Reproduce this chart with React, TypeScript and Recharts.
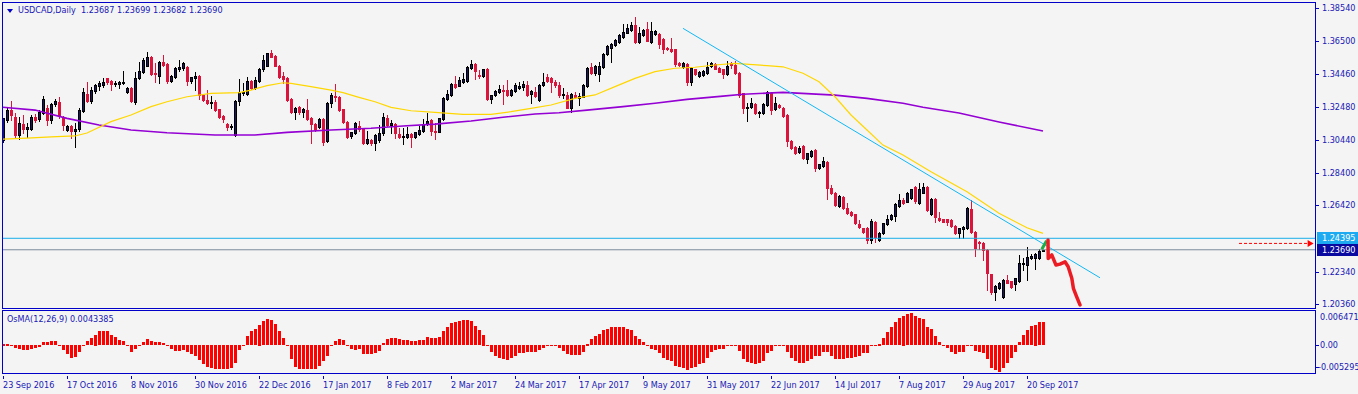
import React from "react";
import {
  ComposedChart, Bar, Line, XAxis, YAxis, ReferenceLine, ReferenceDot,
} from "recharts";

const FONT = "'DejaVu Sans Condensed', 'DejaVu Sans', Verdana, sans-serif";
const INK = "#1818b4";
const FRAME = "#0000c8";
const BG = "#f4f4f4";
const BULL_FILL = "#18185a";
const BEAR = "#dc143c";

// daily bars USDCAD, [open, high, low, close] in pips (x 0.0001)
const CANDLES: [number, number, number, number][] = [
  [13043,13176,13032,13176],[13166,13243,13156,13227],[13227,13284,13166,13196],[13186,13207,13063,13073],[13073,13182,13047,13145],
  [13139,13196,13084,13110],[13108,13145,13063,13121],[13110,13196,13104,13186],[13186,13200,13156,13166],[13170,13227,13160,13217],
  [13211,13313,13200,13295],[13237,13258,13135,13166],[13166,13270,13150,13264],[13264,13295,13255,13282],[13278,13305,13180,13190],
  [13186,13190,13104,13135],[13104,13135,13100,13129],[13129,13135,13053,13100],[13098,13145,13002,13108],[13108,13237,13100,13227],
  [13223,13360,13215,13340],[13325,13401,13275,13284],[13284,13370,13270,13350],[13346,13389,13335,13379],[13377,13405,13350,13391],
  [13379,13422,13370,13397],[13422,13425,13390,13397],[13405,13410,13350,13385],[13385,13405,13375,13395],[13387,13405,13360,13397],
  [13391,13467,13385,13401],[13340,13368,13335,13360],[13360,13366,13278,13282],[13278,13463,13264,13426],[13422,13520,13415,13467],
  [13463,13545,13455,13534],[13500,13585,13495,13551],[13551,13560,13440,13446],[13452,13514,13401,13446],[13438,13530,13395,13520],
  [13520,13567,13495,13504],[13508,13515,13395,13407],[13407,13445,13400,13438],[13432,13490,13425,13483],[13479,13534,13470,13489],
  [13483,13525,13475,13514],[13493,13500,13380,13405],[13405,13432,13395,13432],[13426,13458,13350,13436],[13436,13440,13295,13319],
  [13319,13325,13280,13288],[13288,13350,13262,13268],[13268,13313,13241,13278],[13274,13288,13220,13227],[13231,13235,13180,13186],
  [13190,13195,13151,13170],[13139,13145,13104,13125],[13125,13141,13110,13129],[13073,13288,13068,13282],[13282,13418,13258,13336],
  [13329,13391,13320,13336],[13325,13428,13318,13405],[13405,13410,13358,13364],[13364,13432,13358,13411],[13407,13483,13400,13477],
  [13477,13565,13470,13534],[13499,13580,13495,13575],[13575,13596,13550,13555],[13559,13565,13495,13499],[13499,13505,13425,13432],
  [13436,13463,13391,13418],[13422,13428,13282,13288],[13295,13300,13210,13217],[13217,13248,13172,13241],[13243,13252,13205,13213],
  [13213,13238,13186,13231],[13227,13295,13165,13172],[13180,13185,13022,13139],[13139,13145,13100,13108],[13125,13180,13118,13172],
  [13172,13180,13012,13032],[13039,13275,13030,13268],[13268,13330,13248,13319],[13313,13385,13282,13309],[13309,13315,13220,13227],
  [13231,13235,13145,13151],[13155,13160,13055,13063],[13067,13095,13053,13090],[13084,13152,13078,13145],[13129,13162,13100,13108],
  [13114,13120,13020,13026],[13026,13100,13020,13049],[13043,13050,13010,13026],[13022,13080,12981,13073],[13043,13135,13030,13084],
  [13084,13207,13075,13186],[13180,13196,13130,13135],[13135,13165,13084,13145],[13139,13145,13053,13084],[13080,13114,13055,13059],
  [13063,13114,13018,13067],[13063,13125,13058,13080],[13080,13085,13002,13063],[13063,13095,13058,13090],[13080,13129,13075,13104],
  [13100,13170,13095,13141],[13139,13207,13135,13159],[13166,13170,13073,13100],[13098,13145,13047,13094],[13094,13180,13090,13176],
  [13172,13305,13165,13299],[13295,13350,13290,13325],[13319,13392,13315,13387],[13385,13436,13365,13370],[13377,13428,13372,13411],
  [13401,13452,13395,13415],[13405,13495,13400,13489],[13483,13534,13478,13508],[13510,13515,13415,13469],[13445,13473,13422,13442],
  [13436,13482,13430,13477],[13479,13483,13288,13295],[13295,13322,13272,13317],[13317,13350,13312,13344],[13340,13381,13335,13356],
  [13352,13381,13262,13350],[13350,13411,13315,13321],[13321,13356,13315,13350],[13346,13391,13340,13381],[13360,13401,13355,13374],
  [13370,13405,13350,13385],[13381,13407,13315,13319],[13323,13350,13272,13344],[13340,13370,13308,13313],[13288,13388,13282,13381],
  [13381,13456,13375,13401],[13428,13448,13400,13405],[13426,13430,13340,13401],[13401,13410,13370,13380],[13380,13400,13310,13320],
  [13320,13361,13299,13326],[13320,13340,13238,13242],[13242,13330,13217,13326],[13320,13340,13299,13310],[13303,13330,13258,13316],
  [13310,13385,13305,13381],[13377,13493,13370,13488],[13494,13514,13448,13453],[13453,13505,13445,13498],[13447,13525,13408,13498],
  [13490,13580,13484,13572],[13570,13628,13565,13621],[13611,13640,13525,13631],[13627,13665,13620,13658],[13643,13695,13637,13688],
  [13674,13756,13668,13709],[13703,13756,13698,13729],[13719,13770,13715,13750],[13750,13797,13637,13647],[13647,13740,13640,13699],
  [13688,13725,13680,13719],[13723,13770,13650,13654],[13647,13770,13640,13715],[13692,13720,13688,13713],[13695,13700,13606,13631],
  [13662,13668,13576,13600],[13611,13615,13595,13600],[13600,13668,13585,13590],[13600,13605,13500,13508],[13514,13520,13498,13504],
  [13494,13520,13488,13514],[13510,13515,13381,13402],[13402,13490,13381,13484],[13477,13482,13440,13447],[13439,13465,13430,13459],
  [13443,13475,13438,13467],[13453,13525,13448,13494],[13498,13525,13492,13518],[13510,13515,13478,13482],[13488,13492,13458,13463],
  [13477,13480,13422,13449],[13449,13531,13445,13500],[13518,13522,13484,13504],[13504,13531,13450,13457],[13453,13458,13310,13320],
  [13330,13335,13207,13238],[13237,13272,13162,13243],[13243,13299,13238,13268],[13264,13270,13200,13207],[13207,13220,13186,13215],
  [13211,13268,13200,13262],[13258,13346,13252,13340],[13334,13340,13200,13227],[13231,13309,13225,13272],[13258,13265,13238,13243],
  [13241,13246,13186,13192],[13196,13200,13006,13039],[13039,13045,12990,12996],[13002,13008,12955,12961],[12971,13006,12965,12996],
  [13006,13010,12925,12930],[12924,12966,12903,12961],[12946,12980,12940,12975],[12981,12990,12854,12873],[12869,12898,12864,12893],
  [12883,12940,12878,12914],[12910,12915,12680,12746],[12750,12766,12710,12715],[12719,12725,12638,12643],[12637,12705,12633,12699],
  [12695,12700,12617,12623],[12623,12654,12588,12592],[12602,12608,12577,12582],[12586,12590,12527,12535],[12527,12551,12500,12506],
  [12500,12505,12475,12480],[12500,12506,12408,12432],[12428,12555,12408,12547],[12541,12547,12418,12449],[12432,12480,12422,12475],
  [12469,12536,12465,12531],[12527,12582,12522,12561],[12555,12588,12550,12582],[12576,12656,12547,12650],[12637,12711,12630,12674],
  [12675,12685,12650,12658],[12665,12722,12660,12716],[12685,12745,12680,12740],[12757,12762,12654,12669],[12658,12777,12652,12740],
  [12720,12777,12715,12753],[12757,12762,12608,12613],[12589,12685,12584,12679],[12679,12685,12542,12572],[12562,12603,12548,12552],
  [12556,12560,12538,12542],[12556,12560,12521,12538],[12552,12556,12510,12515],[12515,12520,12464,12474],[12470,12505,12439,12501],
  [12495,12512,12439,12507],[12501,12634,12495,12624],[12617,12675,12475,12480],[12480,12485,12331,12378],[12419,12425,12372,12409],
  [12409,12415,12306,12368],[12368,12372,12122,12224],[12218,12222,12100,12112],[12112,12150,12060,12146],[12132,12170,12126,12163],
  [12081,12188,12071,12183],[12183,12214,12162,12167],[12177,12180,12137,12142],[12159,12198,12122,12194],[12177,12337,12170,12286],
  [12280,12316,12245,12286],[12275,12388,12183,12323],[12316,12340,12310,12331],[12316,12351,12249,12341],[12316,12372,12310,12364],
  [12369,12370,12368,12369],
];

// OsMA(12,26,9) histogram, x 0.0001
const OSMA: number[] = [
  3,3,1,-5,-8,-10,-10,-7,-5,-3, 6,5,7,7,1,-9,-18,-24,-22,-14,
  -2,7,14,20,26,27,26,19,16,10, 7,0.5,-14,-8,-2,6,11,7,6,6,
  4,-2,-8,-11,-11,-10,-14,-18,-21,-28, -36,-41,-43,-45,-46,-46,-46,-44,-34,-10,
  0.5,17,26,31,39,46,49,47,40,27, 14,0.5,-26,-41,-45,-46,-46,-46,-46,-40,
  -31,-20,-2,7,12,10,0.5,-8,-9,-8, -18,-18,-18,-16,-11,4,12,14,14,12,
  10,10,7,7,9,10,15,14,14,15, 27,34,42,44,46,47,47,46,37,29,
  20,0.5,-13,-21,-24,-26,-28,-24,-21,-16, -15,-14,-14,-14,-10,-6,-1,0.5,0.5,-6,
  -11,-17,-19,-19,-19,-13,3,11,17,21, 29,31,35,35,35,34,31,29,18,11,
  6,-2,-7,-9,-16,-25,-29,-31,-39,-42, -43,-47,-44,-41,-37,-34,-24,-14,-9,-7,
  -7,-2,0.5,1,-12,-26,-33,-35,-37,-35, -31,-15,-11,-0.5,-1,-1,-14,-25,-31,-34,
  -34,-31,-26,-21,-21,-13,-14,-21,-26,-27, -26,-25,-24,-22,-21,-16,-15,-2,-2,3,
  13,24,34,44,51,56,59,61,55,51, 49,35,31,17,5,-1,-6,-13,-17,-14,
  -14,0.5,-1,-11,-14,-16,-27,-44,-47,-52, -43,-34,-25,-14,5,19,29,36,39,43,
  43,
];

// moving averages, [bar index, pips]
const MA_FAST: [number, number][] = [
  [0,13049],[6,13055],[12,13063],[18,13068],[21,13086],[27,13156],[32,13197],[37,13248],[41,13278],[46,13309],
  [52,13330],[59,13334],[62,13350],[66,13377],[70,13395],[72,13391],[77,13371],[82,13350],[85,13334],[89,13305],
  [93,13278],[97,13244],[102,13223],[108,13213],[115,13201],[122,13201],[127,13217],[132,13238],[137,13258],[143,13299],
  [148,13320],[153,13371],[158,13422],[163,13463],[168,13484],[173,13490],[178,13504],[183,13514],[191,13500],[195,13493],
  [200,13453],[204,13401],[208,13309],[212,13197],[216,13105],[220,13012],[225,12951],[232,12848],[241,12726],[249,12593],
  [256,12504],[260,12470],
];
const MA_SLOW: [number, number][] = [
  [0,13244],[8,13227],[16,13176],[24,13135],[32,13105],[41,13088],[53,13074],[63,13074],[71,13090],[82,13105],
  [92,13115],[100,13129],[108,13141],[117,13160],[125,13183],[133,13203],[139,13211],[146,13227],[155,13248],[163,13269],
  [171,13293],[180,13313],[185,13324],[195,13336],[208,13319],[216,13299],[225,13269],[230,13244],[239,13209],[249,13154],
  [260,13098],
];

// drawn objects
const TREND: [number, number][] = [[170, 13729], [274.25, 12197]];
const PROJ_UP: [number, number][] = [[259.7, 12372], [260.9, 12425]];
const PROJ_DOWN: [number, number][] = [
  [261.25,12429],[261.3,12316],[262.2,12337],[263.25,12275],[264.25,12281],[265.5,12295],
  [266.3,12265],[267.2,12194],[267.6,12132],[268.4,12081],[269.25,12030],
];
const ALERT_FROM = 309;
const ALERT_TO = 327.4;
const ALERT_PRICE = 1.2408;
const ASK = 1.24395;
const BID = 1.2369;

const DATE_LABELS = [
  "23 Sep 2016", "17 Oct 2016", "8 Nov 2016", "30 Nov 2016", "22 Dec 2016", "17 Jan 2017",
  "8 Feb 2017", "2 Mar 2017", "24 Mar 2017", "17 Apr 2017", "9 May 2017", "31 May 2017",
  "22 Jun 2017", "14 Jul 2017", "7 Aug 2017", "29 Aug 2017", "20 Sep 2017",
];
const DATE_STEP = 16;
const PRICE_LABELS = [
  "1.38540", "1.36500", "1.34460", "1.32480", "1.30440", "1.28400",
  "1.26420", "1.24395", "1.23690", "1.22340", "1.20360",
];
const OSMA_TOP = 0.006471;
const OSMA_BOTTOM = -0.005295;
const OSMA_LABELS = ["0.006471", "0.00", "-0.005295"];

const X_DOMAIN: [number, number] = [-0.25, 328];
const PRICE_DOMAIN: [number, number] = [1.20113, 1.38909];
const PLOT_RIGHT = 1315;

const candleData = CANDLES.map(([o, h, l, c], i) => ({
  x: i, o: o / 1e4, h: h / 1e4, l: l / 1e4, c: c / 1e4, range: [l / 1e4, h / 1e4],
}));
const osmaData = OSMA.map((v, i) => ({ x: i, v: v / 1e4 }));
const toPts = (arr: [number, number][]) => arr.map(([x, p]) => ({ x, y: p / 1e4 }));

function Candle(props: any) {
  const { x, y, width, height, payload } = props;
  if (x == null || !payload) return null;
  const { o, h, l, c } = payload;
  const top = Math.min(y, y + height);
  const bot = Math.max(y, y + height);
  const span = h - l;
  const py = (v: number) => (span > 0 ? top + ((h - v) / span) * (bot - top) : top);
  const cx = Math.round(x + width / 2);
  const bull = c >= o;
  const bTop = Math.round(py(Math.max(o, c)));
  const bBot = Math.round(py(Math.min(o, c)));
  const bh = Math.max(1, bBot - bTop);
  return (
    <g shapeRendering="crispEdges">
      <rect x={cx} y={Math.round(top)} width={1} height={Math.max(1, Math.round(bot) - Math.round(top) + 1)} fill={bull ? "#000" : BEAR} />
      {bull ? (
        <>
          <rect x={cx - 1} y={bTop} width={3} height={bh + 1} fill="#000" />
          {bh > 1 && <rect x={cx} y={bTop + 1} width={1} height={bh - 1} fill={BULL_FILL} />}
        </>
      ) : (
        <rect x={cx - 1} y={bTop} width={3} height={bh + 1} fill={BEAR} />
      )}
    </g>
  );
}

function OsmaBar(props: any) {
  const { x, y, width, height } = props;
  if (x == null) return null;
  const cx = Math.round(x + width / 2);
  const top = Math.round(Math.min(y, y + height));
  const h = Math.max(1, Math.round(Math.abs(height)));
  return <rect x={cx - 1} y={top} width={3} height={h} fill="#ff0000" shapeRendering="crispEdges" />;
}

function PriceTick(props: any) {
  const { y, payload } = props;
  const label = PRICE_LABELS.find((s) => Math.abs(parseFloat(s) - payload.value) < 1e-7) ?? "";
  const isAsk = Math.abs(payload.value - ASK) < 1e-7;
  const isBid = Math.abs(payload.value - BID) < 1e-7;
  const cy = Math.round(y);
  if (isAsk || isBid) {
    return (
      <g>
        <rect x={PLOT_RIGHT + 2} y={cy - 6} width={43} height={12} fill={isAsk ? "#1eaaf0" : "#0a0aa0"} />
        <text x={PLOT_RIGHT + 7} y={cy} dominantBaseline="central" fontSize={9} fontFamily={FONT} fill="#ffffff">{label}</text>
      </g>
    );
  }
  return (
    <g>
      <line x1={PLOT_RIGHT + 1} x2={PLOT_RIGHT + 4} y1={cy + 0.5} y2={cy + 0.5} stroke={FRAME} />
      <text x={PLOT_RIGHT + 7} y={cy} dominantBaseline="central" fontSize={9} fontFamily={FONT} fill={INK}>{label}</text>
    </g>
  );
}

function OsmaTick(props: any) {
  const { y, payload } = props;
  const v = payload.value;
  const idx = v > 0 ? 0 : v === 0 ? 1 : 2;
  const dy = idx === 0 ? 6 : idx === 1 ? 0 : -6;
  const cy = Math.round(y + dy);
  return (
    <g>
      {idx > 0 && <line x1={PLOT_RIGHT + 1} x2={PLOT_RIGHT + 4} y1={cy + 0.5} y2={cy + 0.5} stroke={FRAME} />}
      <text x={PLOT_RIGHT + (idx === 2 ? 3 : 5)} y={cy} dominantBaseline="central" fontSize={9} fontFamily={FONT} fill={INK}>{OSMA_LABELS[idx]}</text>
    </g>
  );
}

function DateTick(props: any) {
  const { x, y, payload } = props;
  const label = DATE_LABELS[Math.round(payload.value / DATE_STEP)];
  const tx = Math.round(x);
  return (
    <g>
      <line x1={tx + 0.5} x2={tx + 0.5} y1={y + 1} y2={y + 4} stroke={FRAME} />
      <text x={tx} y={y + 10} dominantBaseline="central" fontSize={9} fontFamily={FONT} fill={INK}>{label}</text>
    </g>
  );
}

function AlertArrow(props: any) {
  const { cx, cy } = props;
  if (cx == null) return null;
  return <path d={`M${cx - 5},${cy - 3.5} L${cx + 1},${cy} L${cx - 5},${cy + 3.5} Z`} fill="#ff0000" />;
}

export default function App() {
  return (
    <div style={{ position: "absolute", left: 0, top: 0, width: 1358, height: 394, background: BG, overflow: "hidden" }}>
      {/* main window */}
      <div style={{ position: "absolute", left: 0, top: 0 }}>
        <ComposedChart width={1358} height={310} data={candleData} margin={{ top: 2, right: 0, bottom: 2, left: 2 }}>
          <XAxis dataKey="x" type="number" domain={X_DOMAIN} allowDataOverflow hide />
          <YAxis
            orientation="right"
            type="number"
            width={43}
            domain={PRICE_DOMAIN}
            allowDataOverflow
            ticks={PRICE_LABELS.map(Number)}
            interval={0}
            axisLine={false}
            tickLine={false}
            tick={PriceTick}
          />
          <ReferenceLine y={ASK} stroke="#19aeea" strokeWidth={1} />
          <ReferenceLine y={BID} stroke="#7b8b9c" strokeWidth={1} />
          <ReferenceLine
            segment={[{ x: ALERT_FROM, y: ALERT_PRICE }, { x: ALERT_TO, y: ALERT_PRICE }]}
            stroke="#ff0000"
            strokeDasharray="3 2"
            ifOverflow="visible"
          />
          <ReferenceDot x={ALERT_TO} y={ALERT_PRICE} r={3} shape={AlertArrow} ifOverflow="visible" />
          <Line data={toPts(MA_SLOW)} dataKey="y" stroke="#9400d3" strokeWidth={1.6} dot={false} isAnimationActive={false} />
          <Line data={toPts(MA_FAST)} dataKey="y" stroke="#ffd700" strokeWidth={1.2} dot={false} isAnimationActive={false} />
          <Bar dataKey="range" barSize={3} shape={Candle} isAnimationActive={false} />
          <ReferenceLine
            segment={TREND.map(([x, p]) => ({ x, y: p / 1e4 }))}
            stroke="#10b8f4"
            strokeWidth={1}
          />
          <Line data={toPts(PROJ_UP)} dataKey="y" stroke="#22aa44" strokeWidth={3} dot={false} isAnimationActive={false} />
          <Line data={toPts(PROJ_DOWN)} dataKey="y" stroke="#ec1c24" strokeWidth={3.5} strokeLinejoin="round" strokeLinecap="round" dot={false} isAnimationActive={false} />
        </ComposedChart>
      </div>

      {/* OsMA window */}
      <div style={{ position: "absolute", left: 0, top: 305 }}>
        <ComposedChart width={1358} height={89} data={osmaData} margin={{ top: 6, right: 0, bottom: 0, left: 2 }}>
          <XAxis
            dataKey="x"
            type="number"
            domain={X_DOMAIN}
            allowDataOverflow
            ticks={DATE_LABELS.map((_, k) => k * DATE_STEP)}
            interval={0}
            height={21}
            axisLine={false}
            tickLine={false}
            tickSize={0}
            tick={DateTick}
          />
          <YAxis
            orientation="right"
            type="number"
            width={43}
            domain={[OSMA_BOTTOM, OSMA_TOP]}
            allowDataOverflow
            ticks={[OSMA_TOP, 0, OSMA_BOTTOM]}
            interval={0}
            axisLine={false}
            tickLine={false}
            tick={OsmaTick}
          />
          <Bar dataKey="v" barSize={3} shape={OsmaBar} isAnimationActive={false} />
        </ComposedChart>
      </div>

      {/* window frames */}
      <div style={{ position: "absolute", left: 2, top: 2, width: 1314, height: 307, boxSizing: "border-box", border: `1px solid ${FRAME}`, pointerEvents: "none" }} />
      <div style={{ position: "absolute", left: 2, top: 310, width: 1314, height: 64, boxSizing: "border-box", border: `1px solid ${FRAME}`, pointerEvents: "none" }} />

      {/* captions */}
      <div style={{ position: "absolute", left: 7, top: 9, width: 0, height: 0, borderLeft: "3px solid transparent", borderRight: "3px solid transparent", borderTop: `4px solid ${FRAME}` }} />
      <div style={{ position: "absolute", left: 18, top: 4, fontFamily: FONT, fontSize: 9, color: INK, whiteSpace: "pre", lineHeight: "13px" }}>
        {"USDCAD,Daily  1.23687 1.23699 1.23682 1.23690"}
      </div>
      <div style={{ position: "absolute", left: 7, top: 313, fontFamily: FONT, fontSize: 9, color: INK, whiteSpace: "pre", lineHeight: "13px" }}>
        {"OsMA(12,26,9) 0.0043385"}
      </div>
    </div>
  );
}
